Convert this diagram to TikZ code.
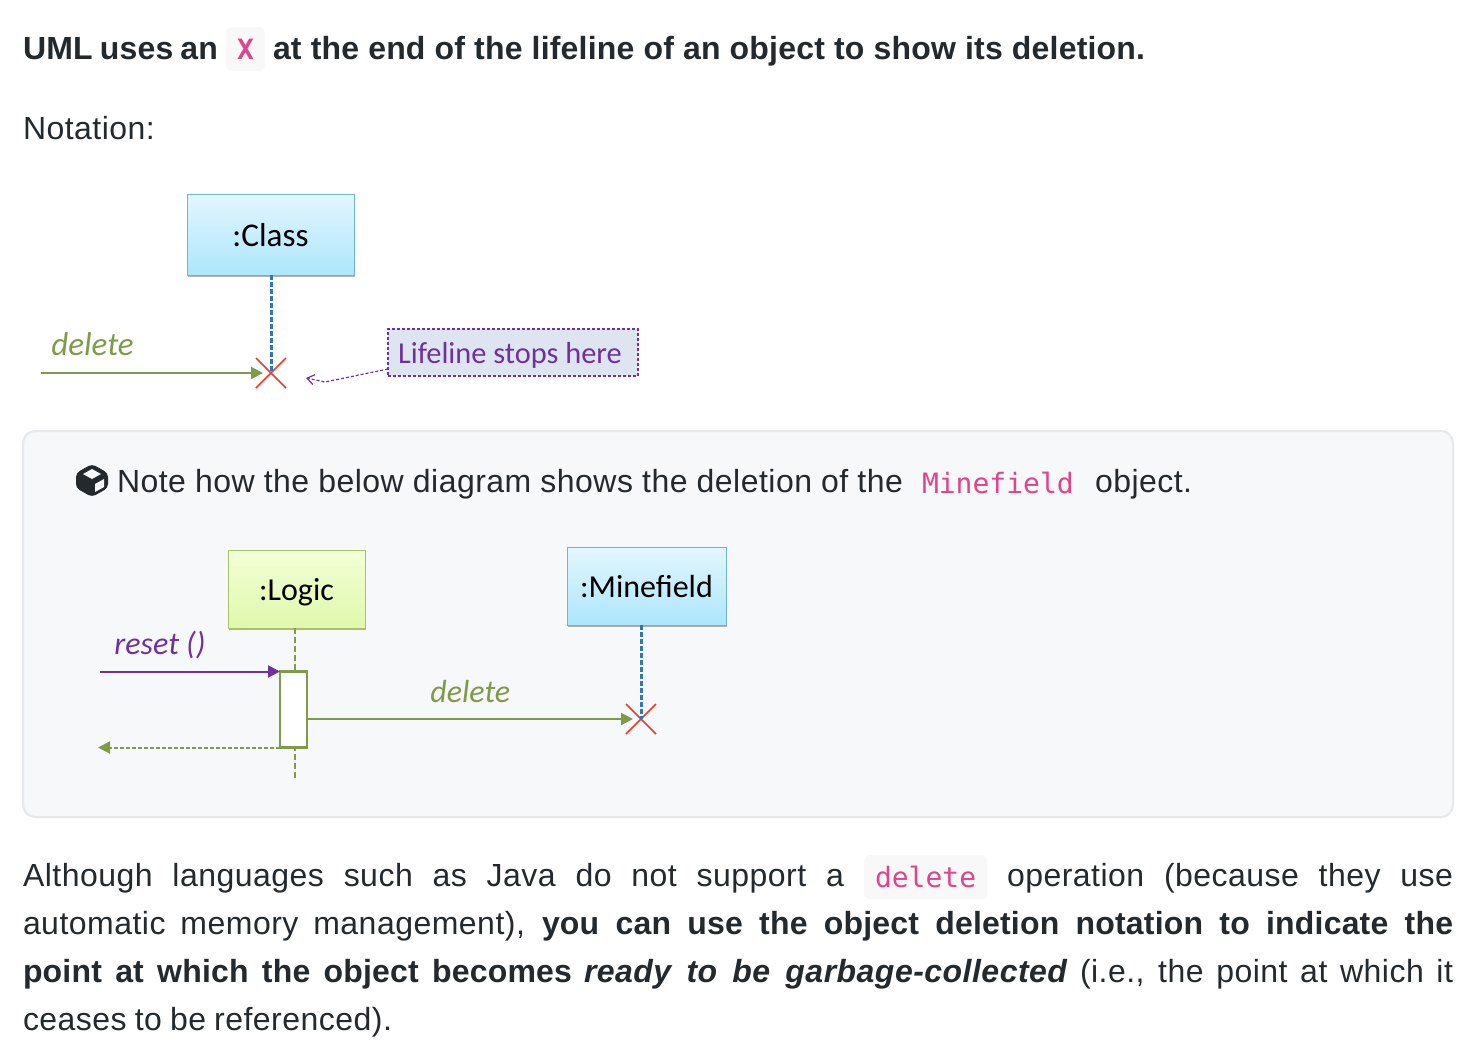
\documentclass[tikz,border=0pt]{standalone}
\usepackage{fontspec}
\setmainfont{Liberation Sans}
\setmonofont{DejaVu Sans Mono}
\newfontfamily\calibrifont{Carlito}
\usepackage{xcolor}
\usetikzlibrary{arrows.meta,shapes.misc,shadows}
\definecolor{inktext}{HTML}{24292E}
\definecolor{codepink}{HTML}{E0458C}
\definecolor{chipgray}{HTML}{F8F8F8}
\definecolor{calloutbg}{HTML}{F6F8FA}
\definecolor{calloutline}{HTML}{E6E8EB}
\definecolor{umlolive}{HTML}{7F9A48}
\definecolor{umlpurple}{HTML}{7030A0}
\definecolor{umlblue}{HTML}{2F75C0}
\definecolor{umlred}{HTML}{EE3B2B}
\definecolor{notefill}{HTML}{DEE4F0}
\definecolor{classtop}{HTML}{E3F6FE}
\definecolor{classbot}{HTML}{ADE6FB}
\definecolor{classedge}{HTML}{6FB5CE}
\definecolor{logictop}{HTML}{F4FFD8}
\definecolor{logicbot}{HTML}{DFF8AC}
\definecolor{logicedge}{HTML}{A8C268}
\newcommand{\spreadto}[2]{\makebox[0.5\dimexpr#1pt\relax][s]{#2}}
\newcommand{\dropby}[2]{\raisebox{#1}[\height][\depth]{#2}}
\tikzset{
    txt/.style={anchor=base west, inner sep=0pt, outer sep=0pt, text=inktext, font=\fontsize{16}{18}\selectfont\addfontfeature{LetterSpace=1.5}},
    boldtxt/.style={txt, font=\fontsize{16}{18}\selectfont\bfseries\addfontfeature{LetterSpace=0.6}},
    code/.style={anchor=base west, inner sep=0pt, outer sep=0pt, text=codepink, font=\fontsize{14}{17}\ttfamily},
    chip/.style={fill=chipgray, draw=none, rounded corners=3pt},
    objbox/.style={draw=#1, line width=0.4pt, inner sep=0pt, outer sep=0pt, font=\fontsize{16}{18}\calibrifont, text=black, drop shadow={shadow xshift=0.5pt, shadow yshift=-1pt, fill=black!60, opacity=0.5}},
    classobj/.style={objbox=classedge, top color=classtop, bottom color=classbot},
    logicobj/.style={objbox=logicedge, top color=logictop, bottom color=logicbot},
    msg/.style={font=\fontsize{16}{18}\calibrifont\itshape, anchor=base west, inner sep=0pt},
    crossmark/.style={cross out, draw=umlred, line width=0.75pt, minimum size=15pt, inner sep=0pt, outer sep=0pt},
    lifeline/.style={dash pattern=on 2.5pt off 1pt, line width=1.5pt},
    call/.style={line width=1pt, -{Triangle[length=6pt,width=6pt]}}
}
\begin{document}
\begin{tikzpicture}[x=0.5pt,y=-0.5pt]
    \useasboundingbox (0,0) rectangle (1476,1050);

    % Heading
    \node[boldtxt] (headA) at (23,59) {\spreadto{195}{UML uses an}};
    \node[chip, minimum width=19.5pt, minimum height=22pt] (xchip) at (245.5,49) {};
    \node[code, font=\fontsize{14}{17}\ttfamily\bfseries, anchor=base] (xcode) at (245.5,59) {X};
    \node[boldtxt] (headB) at (273,59) {\spreadto{872}{at the end of the lifeline of an object to show its deletion.}};
    \node[txt] (notation) at (23,139) {Notation:};

    % Notation diagram
    \node[classobj, font=\fontsize{16.6}{18}\calibrifont, minimum width=83.5pt, minimum height=40.5pt] (classbox) at (270.5,234.5) {\dropby{-0.5pt}{:Class}};
    \node[crossmark] (classend) at (271,373) {};
    \coordinate (delfrom) at (41,373);
    \draw[umlblue, lifeline] (classbox.south -| classend) -- (classend.center);
    \draw[umlolive, call, shorten >=4pt] (delfrom) -- (classend.center);
    \node[msg, font=\fontsize{16.5}{18}\calibrifont\itshape, text=umlolive] (dellabel) at (51,355) {delete};
    \node[draw=umlpurple, dash pattern=on 1.5pt off 1pt, line width=0.6pt, outer sep=0pt, fill=notefill, minimum width=125pt, minimum height=23.5pt, inner sep=0pt, text=umlpurple, font=\fontsize{15.2}{18}\calibrifont] (stopnote) at (513,352.5) {\dropby{-1.5pt}{\kern-1.5pt Lifeline stops here\kern1.5pt}};
    \coordinate (stoptip) at (306,378);
    \coordinate (stopbend) at (325,382);
    \draw[umlpurple, dash pattern=on 1.5pt off 1pt, line width=0.6pt, -{Straight Barb[length=3.5pt,width=5pt]}] (stopnote.west |- 0,369) -- (stopbend) -- (stoptip);

    % Callout
    \node[draw=calloutline, fill=calloutbg, line width=1pt, rounded corners=6pt, minimum width=715pt, minimum height=193pt, inner sep=0pt] (callout) at (738,624) {};
    \fill[inktext, rounded corners=2pt] (92,464) -- (108,473) -- (108,488) -- (92,497) -- (76,488) -- (76,473) -- cycle;
    \fill[calloutbg] (95,484) -- (104,479) -- (104,487) -- (95,492) -- cycle;
    \fill[calloutbg] (92,469) -- (101,474) -- (92,479) -- (83,474) -- cycle;
    \node[txt] (noteA) at (117,492) {\spreadto{786}{Note how the below diagram shows the deletion of the}};
    \node[code] (notecode) at (922,493) {Minefield};
    \node[txt] (noteB) at (1095,492) {object.};

    % Deletion diagram
    \node[logicobj, minimum width=68.5pt, minimum height=39pt] (logicbox) at (296.5,589) {\dropby{-1.5pt}{:Logic}};
    \node[classobj, minimum width=79.5pt, minimum height=39pt] (fieldbox) at (646.5,586) {\dropby{-0.5pt}{:Minefield}};
    \coordinate (logicend) at (295,778);
    \draw[umlolive, dash pattern=on 3pt off 1.5pt, line width=1pt] (logicbox.south -| logicend) -- (logicend);
    \node[draw=umlolive, fill=white, line width=1.4pt, outer sep=0pt, minimum width=13.5pt, minimum height=38pt, inner sep=0pt] (active) at (293.5,709.5) {};
    \node[crossmark] (fieldend) at (641,719) {};
    \coordinate (resetfrom) at (100,671.5);
    \coordinate (backto) at (98,747.5);
    \draw[umlblue, lifeline] (fieldbox.south -| fieldend) -- (fieldend.center);
    \draw[umlpurple, call] (resetfrom) -- (active.north west);
    \draw[umlolive, call, shorten >=4pt] (active.east |- fieldend) -- (fieldend.center);
    \draw[umlolive, dash pattern=on 2pt off 1pt, call] (active.south west) -- (backto);
    \node[msg, text=umlpurple] (resetlabel) at (114,654) {reset ()};
    \node[msg, text=umlolive] (dellabeltwo) at (430,702) {delete};

    % Paragraph
    \node[txt] (lineA) at (23,886) {\spreadto{821}{Although languages such as Java do not support a}};
    \node[chip, minimum width=61.5pt, minimum height=22pt] (delchip) at (925.5,877) {};
    \node[code] (delcode) at (875,887) {delete};
    \node[txt] (lineB) at (1007,886) {\spreadto{446}{operation (because they use}};
    \node[txt] (lineC) at (23,934) {\spreadto{502}{automatic memory management),}};
    \node[boldtxt] (lineD) at (542,934) {\spreadto{911}{you can use the object deletion notation to indicate the}};
    \node[boldtxt] (lineE) at (23,982) {\spreadto{549}{point at which the object becomes}};
    \node[boldtxt, font=\fontsize{16}{18}\selectfont\bfseries\itshape\addfontfeature{LetterSpace=1.5}] (lineF) at (584,982) {\spreadto{483}{ready to be garbage-collected}};
    \node[txt] (lineG) at (1080,982) {\spreadto{373}{(i.e., the point at which it}};
    \node[txt] (lineH) at (23,1030) {\spreadto{369}{ceases to be referenced).}};
\end{tikzpicture}
\end{document}
